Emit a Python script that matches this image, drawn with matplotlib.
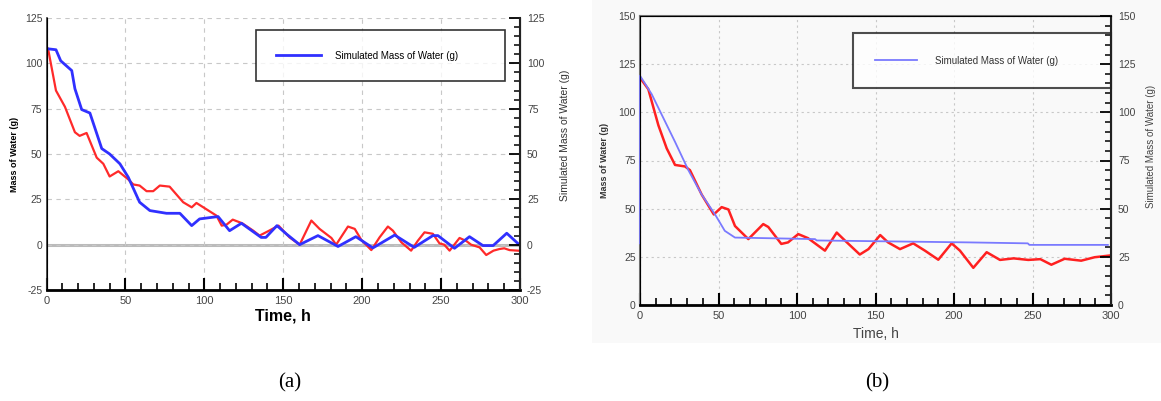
import numpy as np
import matplotlib
matplotlib.use("Agg")
import matplotlib.pyplot as plt
from matplotlib.ticker import MultipleLocator
from matplotlib.patches import Rectangle

plt.rcParams['font.family'] = ['Liberation Sans', 'DejaVu Sans']
plt.rcParams['axes.unicode_minus'] = False

# ---- panel (a) data ----
a_sim_t = [1, 6, 9, 16, 18, 22.3, 27.5, 35, 40, 46.5, 51.8, 59, 65.5, 76, 84.5, 92, 97,
           108.7, 116, 123.5, 136, 139, 146, 152, 160.4, 172, 184.7, 196, 206.8, 220.6,
           233, 244.8, 248, 258.5, 268, 276.5, 283, 291.6, 299]
a_sim_m = [108, 107.5, 101.4, 96, 86, 74.5, 72.6, 53, 50, 44.6, 37.2, 23.4, 18.8, 17.3, 17.3,
           10.5, 14.2, 15.5, 7.7, 11.8, 4, 4, 10.5, 5.9, 0, 5, -1, 4.4, -1.8, 5.3,
           -1.5, 5, 5, -2, 4.4, -0.5, -0.5, 6.3, 0.4]
a_meas_t = [1, 6, 11.7, 18, 21, 25.4, 31.8, 36, 40, 45.5, 51.8, 55, 59, 63.4, 67.6, 71.8, 78,
            86.6, 92, 95, 107.7, 111, 114, 118, 124, 131, 135, 141, 147, 154, 160.4, 167.8,
            173, 180.5, 183.5, 191, 195.3, 199.5, 205.8, 211, 216.3, 219.5, 224.8, 231,
            235.3, 239.5, 244.8, 249, 252, 255.4, 261.7, 266, 269, 274.4, 278.6, 283.2,
            287, 290, 293.4, 298.7]
a_meas_m = [108, 85, 76, 62, 60, 61.6, 48, 44.6, 37.6, 40.5, 36, 33.2, 32.6, 29.5, 29.5, 32.6,
            32, 23.4, 20.6, 23, 16, 10.5, 11, 13.8, 11.8, 7.7, 5, 7.7, 10.5, 4, 0, 13.3,
            8.7, 3.7, 0, 10, 8.7, 2.6, -3, 4, 10, 7.7, 1.3, -3.3,
            2.2, 6.8, 6, 0.7, 0, -3.3, 3.7, 2, 0, -1.5, -5.7, -3.3,
            -2.4, -2, -3, -3.3]

# ---- panel (b) data ----
b_sim_t = [0, 0, 7.4, 22.3, 30.8, 39.3, 47.8, 54, 60.5, 111.5, 112.5, 209, 247, 248, 298]
b_sim_m = [32, 119, 109.5, 84.7, 70, 57.3, 47, 38.5, 35, 34.2, 33.5, 32.5, 32, 31.2, 31.2]
b_meas_t = [0, 5.3, 11.7, 17, 22.3, 28.7, 31.8, 39.3, 47, 52, 56.3, 60.5, 69, 78.5, 81.7, 90,
            94.3, 100.8, 107, 117.8, 125.3, 130.6, 140, 145.5, 153, 158, 165.6, 174, 181.5,
            190, 198.5, 203.8, 212.3, 220.8, 229.3, 238, 247.3, 255, 262, 270.5, 281,
            289.6, 299.4]
b_meas_m = [118, 112, 93.3, 81.3, 72.7, 71.9, 70, 57.3, 47, 50.8, 49.6, 41, 34.2, 42, 40.5, 31.7,
            32.5, 36.8, 34.7, 28.2, 37.6, 33.4, 26.2, 29, 36.3, 32.5, 29, 32, 28.2,
            23.5, 32, 28.2, 19.3, 27.4, 23.4, 24.2, 23.4, 23.8, 20.9, 24, 23,
            24.8, 25.7]

legend_label = 'Simulated Mass of Water (g)'

fig = plt.figure(figsize=(11.61, 4.01), dpi=100)
fig.patch.set_facecolor('white')
fig.patches.append(Rectangle((592 / 1161, 1 - 343 / 401), 1 - 592 / 1161, 343 / 401,
                             transform=fig.transFigure, facecolor='#f9f9f9',
                             edgecolor='none', zorder=-10))

tick_col = '#444444'


def style_axes(ax, ax2, ymin, ymax, gridstyle):
    ax.set_xlim(0, 300)
    ax.set_ylim(ymin, ymax)
    ax2.set_ylim(ymin, ymax)
    ax.xaxis.set_major_locator(MultipleLocator(50))
    ax.xaxis.set_minor_locator(MultipleLocator(10))
    ax.yaxis.set_major_locator(MultipleLocator(25))
    ax2.yaxis.set_major_locator(MultipleLocator(25))
    ax2.yaxis.set_minor_locator(MultipleLocator(5))
    ax.grid(True, which='major', color='#c8c8c8', linestyle=gridstyle, linewidth=0.8)
    ax.tick_params(axis='x', which='major', direction='in', length=9, width=1.5,
                   labelsize=8, labelcolor=tick_col, pad=4)
    ax.tick_params(axis='x', which='minor', direction='in', length=5, width=1.2)
    ax.tick_params(axis='y', which='both', length=0, labelsize=7.5,
                   labelcolor=tick_col, pad=3)
    ax2.tick_params(axis='y', which='major', direction='in', length=8, width=1.3,
                    labelsize=7.5, labelcolor=tick_col, pad=5)
    ax2.tick_params(axis='y', which='minor', direction='in', length=4, width=1.1)
    ax.set_facecolor('none')
    ax.spines['bottom'].set_linewidth(2)
    ax.spines['bottom'].set_color('black')
    ax2.spines['right'].set_linewidth(1.5)
    ax2.spines['right'].set_color('#222222')


# ---- panel (a) ----
axa = fig.add_axes([46.5 / 1161, 1 - 290 / 401, 473.5 / 1161, 272 / 401])
axa2 = axa.twinx()
style_axes(axa, axa2, -25, 125, (0, (4, 4)))
axa.spines['top'].set_visible(False)
axa2.spines['top'].set_visible(False)
axa.spines['left'].set_color('#333333')
axa.spines['left'].set_linewidth(1.2)
axa.axhline(0, color='#bbbbbb', linewidth=2.2, zorder=1)
axa.plot(a_meas_t, a_meas_m, color='#ff2a2a', linewidth=1.6, zorder=3)
axa.plot(a_sim_t, a_sim_m, color='#3030ff', linewidth=2.0, zorder=4, label=legend_label)
axa.set_ylabel('Mass of Water (g)', fontsize=6.5, fontweight='bold')
axa.yaxis.set_label_coords(-0.058, 0.5)
axa.set_xlabel('Time, h', fontsize=11.5, fontweight='bold', labelpad=2)
axa2.set_ylabel(legend_label, fontsize=7.5, color='#333333')
axa2.yaxis.set_label_coords(1.085, 0.57)
lega = axa.legend(loc='lower left', bbox_to_anchor=(0.442, 0.768, 0.526, 0.203),
                  mode='expand', fontsize=7, frameon=True, fancybox=False,
                  borderpad=2.1, handlelength=4.6, handletextpad=1.4, borderaxespad=0)
lega.get_frame().set_edgecolor('black')
lega.get_frame().set_linewidth(1.2)

# ---- panel (b) ----
axb = fig.add_axes([640 / 1161, 1 - 305 / 401, 471 / 1161, 289 / 401])
axb2 = axb.twinx()
style_axes(axb, axb2, 0, 150, (0, (2, 3)))
for sp in ('top', 'left'):
    axb.spines[sp].set_color('#777777')
    axb.spines[sp].set_linewidth(1.5)
axb.plot(b_meas_t, b_meas_m, color='#ff2020', linewidth=1.8, zorder=3)
axb.plot(b_sim_t, b_sim_m, color='#7a7aff', linewidth=1.3, zorder=4, label=legend_label,
         clip_on=False)
axb.set_ylabel('Mass of Water (g)', fontsize=6.5, fontweight='bold', color='#333333')
axb.yaxis.set_label_coords(-0.066, 0.5)
axb.set_xlabel('Time, h', fontsize=10, color='#444444', labelpad=5)
axb2.set_ylabel(legend_label, fontsize=7, color='#444444')
axb2.yaxis.set_label_coords(1.075, 0.55)
legb = axb.legend(loc='lower left', bbox_to_anchor=(0.452, 0.751, 0.548, 0.197),
                  mode='expand', fontsize=7, frameon=True, fancybox=False,
                  borderpad=2.3, handlelength=4.3, handletextpad=1.8, borderaxespad=0)
legb.get_frame().set_edgecolor('#222222')
legb.get_frame().set_linewidth(1.5)
for t in legb.get_texts():
    t.set_color('#333333')

# ---- captions ----
fig.text(290 / 1161, 1 - 383 / 401, '(a)', fontsize=15, family='Liberation Serif',
         ha='center', va='center')
fig.text(877 / 1161, 1 - 383 / 401, '(b)', fontsize=15, family='Liberation Serif',
         ha='center', va='center')

fig.savefig('out.png', dpi=100)
